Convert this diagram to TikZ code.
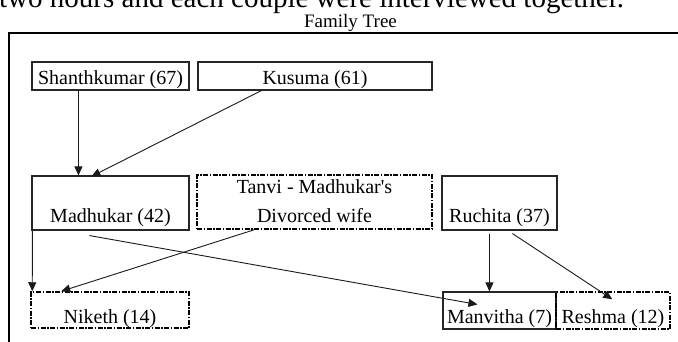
\documentclass[tikz,border=0pt]{standalone}
\usepackage{fontspec}
\setmainfont{Liberation Serif}
\usetikzlibrary{arrows.meta,calc}
\begin{document}
\begin{tikzpicture}[x=1pt,y=-1pt,
  box/.style={draw=black!85, line width=1.1pt, inner sep=0pt, minimum width=#1},
  dbox/.style={draw=black, line width=1.5pt, inner sep=0pt, minimum width=#1,
     dash pattern=on 5pt off 1.5pt on 1.5pt off 1.5pt},
  txt/.style={anchor=base, inner sep=0pt, font=\fontsize{20}{24}\selectfont, text=black},
  arr/.style={draw=black!90, line width=0.9pt, -{Triangle[length=9pt,width=8pt]}}]
\useasboundingbox (0,0) rectangle (678,341);
\clip (0,0) rectangle (678,341);
% partially visible line of text above
\node[anchor=base west, inner sep=0pt, font=\fontsize{29}{34}\selectfont] (cut) at (-1,7) {two hours and each couple were interviewed together.};
% title
\node[anchor=base, inner sep=0pt, font=\fontsize{19}{22}\selectfont] (title) at (350.5,27) {Family Tree};
% frame
\draw[line width=2pt] (9,360) -- (9,33) -- (700,33);
% boxes
\node[box=157pt, minimum height=28pt] (shanth) at (110.5,76) {};
\node[box=234pt, minimum height=28pt] (kusuma) at (315,76) {};
\node[box=157pt, minimum height=54pt] (madhukar) at (110.5,203) {};
\node[dbox=235pt, minimum height=54pt] (tanvi) at (314.5,202) {};
\node[box=115pt, minimum height=54pt] (ruchita) at (499.5,203) {};
\node[dbox=158pt, minimum height=36pt] (niketh) at (110,310) {};
\node[box=113pt, minimum height=37pt] (manvitha) at (499.5,310.5) {};
\node[dbox=114pt, minimum height=37pt] (reshma) at (613,310.5) {};
% texts
\node[txt] (tshanth) at (110.5,84) {Shanthkumar (67)};
\node[txt] (tkusuma) at (315,84) {Kusuma (61)};
\node[txt] (tmadhukar) at (110.5,222.5) {Madhukar (42)};
\node[txt] (ttanvi1) at (314.5,193) {Tanvi - Madhukar\textquotesingle s};
\node[txt] (ttanvi2) at (314.5,222) {Divorced wife};
\node[txt] (truchita) at (499.5,222) {Ruchita (37)};
\node[txt] (tniketh) at (110,323) {Niketh (14)};
\node[txt] (tmanvitha) at (499.5,323) {Manvitha (7)};
\node[txt] (treshma) at (613,323) {Reshma (12)};
% connectors
\draw[arr] ($(shanth.south west)+(47,0)$) -- ($(madhukar.north west)+(47,0)$);
\draw[arr] ($(kusuma.south west)+(64,0)$) -- ($(madhukar.north west)+(60,1)$);
\draw[arr] ($(madhukar.south west)+(1,0)$) -- ($(niketh.north west)+(2,0)$);
\draw[arr] ($(tanvi.south west)+(58,0)$) -- ($(niketh.north west)+(31,0)$);
\draw[arr] ($(madhukar.south west)+(58,5)$) -- ($(manvitha.north west)+(35,13)$);
\draw[arr] ($(ruchita.south west)+(48,3)$) -- ($(manvitha.north west)+(47,0)$);
\draw[arr] ($(ruchita.south west)+(71,3)$) -- ($(reshma.north west)+(57,8)$);
\end{tikzpicture}
\end{document}
